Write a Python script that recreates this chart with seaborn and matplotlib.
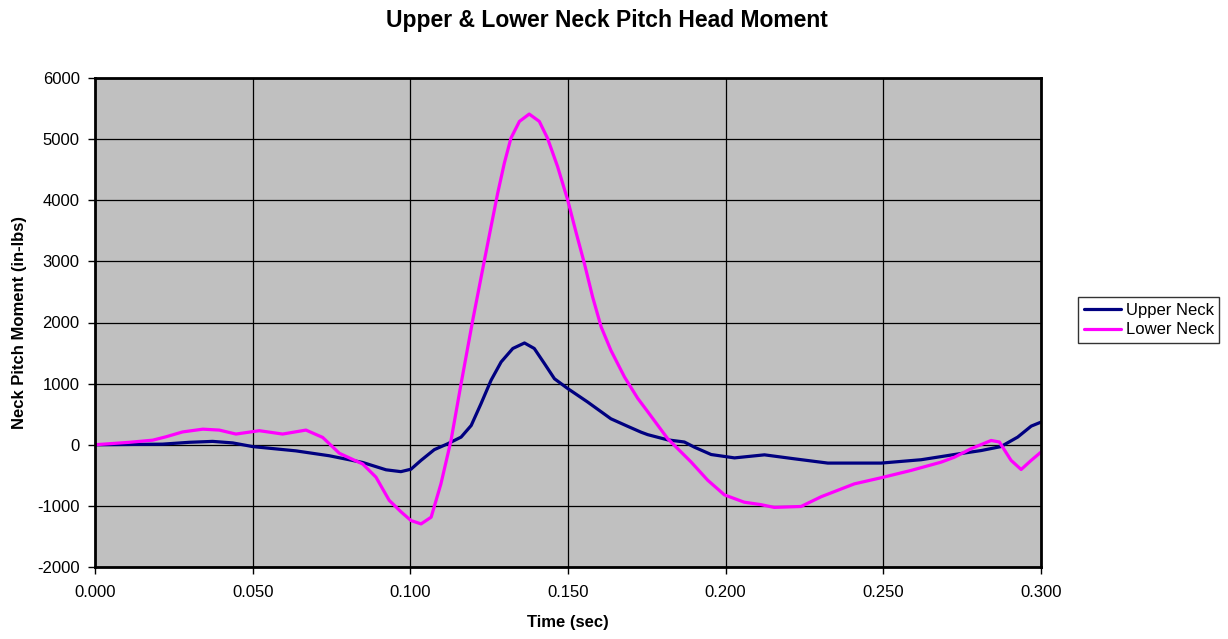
import matplotlib
matplotlib.use("Agg")
import matplotlib.pyplot as plt
import seaborn as sns
import pandas as pd
from matplotlib.ticker import FormatStrFormatter, MultipleLocator

# ---- data ----
upper_t = [0.000, 0.0109, 0.0214, 0.0299, 0.0373, 0.0437, 0.0500, 0.0637, 0.0743, 0.0849,
           0.0923, 0.0970, 0.1002, 0.1034, 0.1076, 0.1118, 0.1161, 0.1193, 0.1224, 0.1256,
           0.1288, 0.1325, 0.1362, 0.1393, 0.1425, 0.1457, 0.1499, 0.1562, 0.1636, 0.1690,
           0.1732, 0.1753, 0.1816, 0.1869, 0.1901, 0.1954, 0.2028, 0.2123, 0.2218, 0.2324,
           0.2493, 0.2620, 0.2725, 0.2810, 0.2873, 0.2926, 0.2969, 0.3000]
upper_v = [0, 5, 10, 40, 55, 30, -30, -100, -180, -290,
           -410, -440, -400, -255, -80, 15, 125, 315, 670, 1055,
           1355, 1575, 1665, 1575, 1330, 1080, 920, 700, 425, 300,
           205, 165, 80, 45, -40, -160, -215, -165, -230, -300,
           -300, -245, -160, -95, -30, 125, 305, 370]

lower_t = [0.000, 0.0109, 0.0183, 0.0225, 0.0278, 0.0342, 0.0394, 0.0447, 0.0521, 0.0595,
           0.0669, 0.0722, 0.0775, 0.0849, 0.0891, 0.0933, 0.0971, 0.1002, 0.1034, 0.1066,
           0.1097, 0.1129, 0.1161, 0.1198, 0.1235, 0.1256, 0.1277, 0.1298, 0.1319, 0.1346,
           0.1377, 0.1409, 0.1435, 0.1467, 0.1499, 0.1525, 0.1552, 0.1578, 0.1605, 0.1636,
           0.1679, 0.1721, 0.1753, 0.1816, 0.1890, 0.1943, 0.1996, 0.2059, 0.2112, 0.2154,
           0.2239, 0.2303, 0.2408, 0.2493, 0.2588, 0.2683, 0.2725, 0.2778, 0.2842, 0.2868,
           0.2905, 0.2937, 0.2969, 0.3000]
lower_v = [0, 40, 75, 130, 210, 255, 240, 175, 230, 175,
           240, 120, -140, -315, -530, -910, -1100, -1240, -1295, -1185,
           -640, 70, 1000, 2040, 3020, 3570, 4115, 4605, 5015, 5290,
           5410, 5290, 5015, 4550, 4005, 3485, 2965, 2420, 1930, 1545,
           1110, 760, 540, 100, -280, -580, -820, -940, -980, -1025,
           -1010, -850, -640, -540, -420, -285, -205, -65, 70, 45,
           -255, -405, -255, -120]

series_names = ["Upper Neck", "Lower Neck"]
series_colors = ["#000080", "#FF00FF"]

title = "Upper & Lower Neck Pitch Head Moment"
x_label = "Time (sec)"
y_label = "Neck Pitch Moment (in-lbs)"

df = pd.concat([
    pd.DataFrame({"t": upper_t, "v": upper_v, "s": series_names[0]}),
    pd.DataFrame({"t": lower_t, "v": lower_v, "s": series_names[1]}),
])

sns.set_theme(style="white")
plt.rcParams["font.family"] = ["Liberation Sans", "DejaVu Sans"]
plt.rcParams["axes.unicode_minus"] = False
plt.rcParams["lines.solid_joinstyle"] = "round"
plt.rcParams["lines.solid_capstyle"] = "round"
plt.rcParams["text.color"] = "black"
plt.rcParams["axes.labelcolor"] = "black"
plt.rcParams["xtick.color"] = "black"
plt.rcParams["ytick.color"] = "black"

fig = plt.figure(figsize=(12.28, 6.39), dpi=100)
ax = fig.add_axes([95 / 1228, 1 - 567 / 639, (1041 - 95) / 1228, (567 - 78) / 639])
ax.set_facecolor("#C0C0C0")

sns.lineplot(data=df, x="t", y="v", hue="s", palette=dict(zip(series_names, series_colors)),
             linewidth=2.3, ax=ax, sort=True, estimator=None)

ax.set_xlim(0, 0.3)
ax.set_ylim(-2000, 6000)
ax.xaxis.set_major_locator(MultipleLocator(0.05))
ax.yaxis.set_major_locator(MultipleLocator(1000))
ax.xaxis.set_major_formatter(FormatStrFormatter("%.3f"))
ax.grid(True, color="black", linewidth=0.9)
ax.set_axisbelow(True)
for sp in ax.spines.values():
    sp.set_visible(True)
    sp.set_color("black")
    sp.set_linewidth(2)
ax.tick_params(axis="both", which="major", direction="out", length=5, width=1,
               color="black", labelsize=12, labelcolor="black", left=True, bottom=True)
ax.tick_params(axis="x", pad=8)
ax.tick_params(axis="y", pad=6)
ax.set_xlabel(x_label, fontsize=12, fontweight="bold", labelpad=11, color="black")
ax.set_ylabel(y_label, fontsize=12, fontweight="bold", labelpad=7, color="black")
fig.suptitle(title, fontsize=16.5, fontweight="bold", x=607 / 1228, y=1 - 9 / 639,
             va="top", color="black")

leg = ax.legend(loc="center left", bbox_to_anchor=(1078 / 1228, 1 - 320 / 639),
                bbox_transform=fig.transFigure, frameon=True, fancybox=False,
                fontsize=12, handlelength=2.2, handletextpad=0.3, borderpad=0.35,
                labelspacing=0.3, borderaxespad=0)
leg.get_frame().set_edgecolor("black")
leg.get_frame().set_linewidth(1)
leg.get_frame().set_facecolor("white")
for text in leg.get_texts():
    text.set_color("black")
for line in leg.get_lines():
    line.set_linewidth(2.3)

fig.savefig("out.png", dpi=100)
